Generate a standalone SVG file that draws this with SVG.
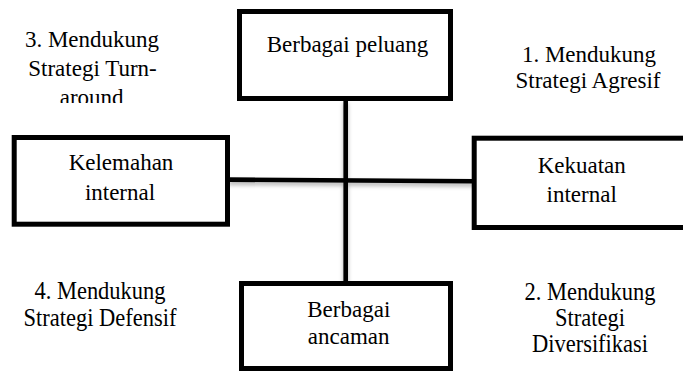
<svg xmlns="http://www.w3.org/2000/svg" width="683" height="371" viewBox="0 0 683 371">
  <defs>
    <style>
      .box { fill: #ffffff; stroke: #000000; stroke-width: 5; }
      .line { stroke: #000000; stroke-width: 4.6; fill: none; }
      .t { font-family: "Liberation Serif", "Times New Roman", serif; font-size: 23px; fill: #000000; text-anchor: middle; }
      .tc { font-family: "Liberation Serif", "Times New Roman", serif; font-size: 25px; fill: #000000; text-anchor: middle; }
    </style>
    <filter id="soft" x="-20%" y="-20%" width="140%" height="160%">
      <feDropShadow dx="0" dy="3" stdDeviation="2" flood-color="#000000" flood-opacity="0.3"/>
    </filter>
    <clipPath id="clipTL">
      <rect x="0" y="0" width="200" height="103"/>
    </clipPath>
  </defs>

  <!-- axes joining the four boxes -->
  <g id="connectors" filter="url(#soft)">
    <line class="line" x1="345.7" y1="100" x2="345.7" y2="284"/>
    <line class="line" x1="228" y1="179.6" x2="474" y2="181.2"/>
  </g>

  <g id="node-peluang">
    <rect class="box" x="239.5" y="11.5" width="211" height="87"/>
    <text class="t" x="347.5" y="52">Berbagai peluang</text>
  </g>

  <g id="node-kelemahan">
    <rect class="box" x="14.2" y="137.5" width="213.3" height="86.7"/>
    <text class="t" x="121" y="170">Kelemahan</text>
    <text class="t" x="120" y="200">internal</text>
  </g>

  <g id="node-kekuatan">
    <rect class="box" x="474.2" y="138.2" width="230" height="89.3"/>
    <text class="t" x="581.7" y="173">Kekuatan</text>
    <text class="t" x="581.7" y="202">internal</text>
  </g>

  <g id="node-ancaman">
    <rect class="box" x="241.5" y="283.5" width="209" height="85"/>
    <text class="t" x="348.8" y="317">Berbagai</text>
    <text class="t" x="348.7" y="344">ancaman</text>
  </g>

  <!-- quadrant captions -->
  <g id="label-q3" clip-path="url(#clipTL)">
    <text class="t" x="92" y="47">3. Mendukung</text>
    <text class="t" x="92.5" y="76">Strategi Turn-</text>
    <text class="t" x="91.7" y="105">around</text>
  </g>

  <g id="label-q1">
    <text class="t" x="589" y="62">1. Mendukung</text>
    <text class="t" x="588" y="88">Strategi Agresif</text>
  </g>

  <g id="label-q4">
    <text class="tc" transform="translate(100,299) scale(0.9,1)" x="0" y="0">4. Mendukung</text>
    <text class="tc" transform="translate(100,326) scale(0.9,1)" x="0" y="0">Strategi Defensif</text>
  </g>

  <g id="label-q2">
    <text class="tc" transform="translate(590,300) scale(0.9,1)" x="0" y="0">2. Mendukung</text>
    <text class="tc" transform="translate(590,326) scale(0.9,1)" x="0" y="0">Strategi</text>
    <text class="tc" transform="translate(590,352) scale(0.9,1)" x="0" y="0">Diversifikasi</text>
  </g>
</svg>
